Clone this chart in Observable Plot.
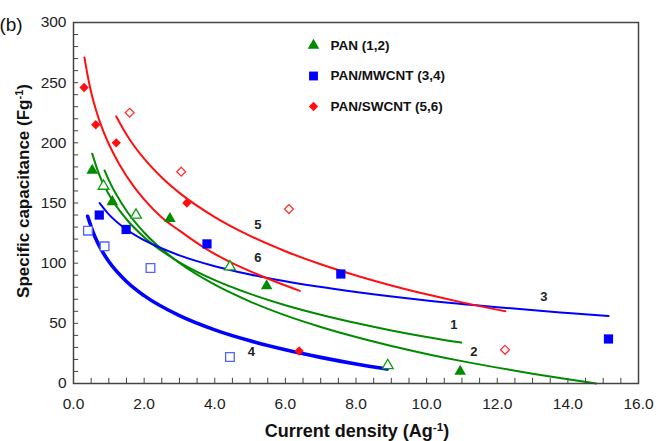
<!DOCTYPE html>
<html><head><meta charset="utf-8">
<script src="https://cdn.jsdelivr.net/npm/d3@7"></script>
<script src="https://cdn.jsdelivr.net/npm/@observablehq/plot@0.6"></script>
<style>
html,body{margin:0;padding:0;background:#fff}
svg{display:block}
</style>
</head><body><div id="chart"></div>
<script>
// ---- data ----
const seriesNames = ["PAN (1,2)", "PAN/MWCNT (3,4)", "PAN/SWCNT (5,6)"];

// PAN (triangles): filled = curve 1, open = curve 2
const panFilledX = [0.53, 1.10, 2.73, 5.47, 10.95];
const panFilledY = [177, 151, 137, 81, 10];
const panOpenX = [0.85, 1.77, 4.43, 8.90];
const panOpenY = [164, 140, 97, 15];

// PAN/MWCNT (squares): filled = curve 3, open = curve 4
const mwFilledX = [0.73, 1.49, 3.78, 7.57, 15.15];
const mwFilledY = [140, 128, 116, 91, 37];
const mwOpenX = [0.41, 0.88, 2.18, 4.43];
const mwOpenY = [127, 114, 96, 22];

// PAN/SWCNT (diamonds)
const swFilledX = [0.30, 0.63, 1.21, 3.21, 6.39];
const swFilledY = [246, 215, 200, 150, 27];
const swOpenX = [1.59, 3.05, 6.10, 12.22];
const swOpenY = [225, 176, 145, 28];

// fitted curves
const curve1X = [0.53, 0.7, 1, 1.5, 2, 3, 4, 5, 6, 7, 8, 9, 10, 10.98];
const curve1Y = [191, 175.7, 157.3, 136.5, 121.6, 100.7, 85.9, 74.5, 65, 57.1, 50.2, 44.1, 38.7, 34];
const curve2X = [0.88, 1, 1.5, 2, 3, 4, 5, 6, 7, 8, 9, 10, 11, 12, 13, 14, 14.8];
const curve2Y = [177, 169, 143.6, 125.5, 100.1, 82.1, 68.1, 56.6, 47, 38.6, 31.2, 24.6, 18.6, 13.2, 8.1, 3.5, 0];
const curve3X = [0.74, 1, 1.5, 2, 3, 4, 5, 6, 8, 10, 12, 14, 15.15];
const curve3Y = [150, 140.6, 128, 119.1, 106.5, 97.5, 90.6, 84.9, 76, 69, 63.4, 58.6, 56];
const curve4X = [0.4, 0.6, 0.8, 1, 1.5, 2, 3, 4, 5, 6, 7, 8, 8.88];
const curve4Y = [139, 122.4, 110.6, 101.4, 84.8, 73, 56.4, 44.6, 35.5, 28, 21.7, 16.2, 12];
const curve5X = [1.21, 1.5, 2, 2.5, 3, 4, 5, 6, 7, 8, 9, 10, 11, 12.23];
const curve5Y = [222, 207, 186.8, 171.2, 158.4, 138.3, 122.7, 109.9, 99.1, 89.8, 81.5, 74.1, 67.4, 60];
const curve6X = [0.31, 0.4, 0.5, 0.62, 0.8, 1, 1.3, 1.7, 2, 2.5, 3, 3.8, 4.5, 5.6, 6.41];
const curve6Y = [271, 256, 242, 229, 213, 199, 182, 164, 153, 138, 127, 111, 100, 86, 77];

// curve number annotations
const curveLabels = ["1", "2", "3", "4", "5", "6"];
const curveLabelX = [10.77, 11.34, 13.32, 5.04, 5.22, 5.22];
const curveLabelY = [48.8, 26.6, 71.7, 26.6, 132, 104.5];

// tick values
const xTicks = [0, 2, 4, 6, 8, 10, 12, 14, 16];
const yTicks = [0, 50, 100, 150, 200, 250, 300];

// ---- styles ----
const GREEN = "#008a00", BLUE = "#0000ff", RED = "#ff1010";
const BLUE_OPEN = "#4f63ff", RED_OPEN = "#ff3333", GREEN_OPEN = "#109a10";
const AXIS = "#444";
const FONT = "'Liberation Sans', Arial, Helvetica, sans-serif";

const zip = (xs, ys) => xs.map((x, i) => ({x, y: ys[i]}));
const curves = [
  {pts: zip(curve1X, curve1Y), stroke: GREEN, w: 2},
  {pts: zip(curve2X, curve2Y), stroke: GREEN, w: 2},
  {pts: zip(curve3X, curve3Y), stroke: BLUE, w: 2},
  {pts: zip(curve4X, curve4Y), stroke: BLUE, w: 3.6},
  {pts: zip(curve5X, curve5Y), stroke: RED, w: 2},
  {pts: zip(curve6X, curve6Y), stroke: RED, w: 2}
];
const markers = [
  {pts: zip(panFilledX, panFilledY), symbol: "triangle", r: 4.3, fill: GREEN, stroke: "none"},
  {pts: zip(panOpenX, panOpenY), symbol: "triangle", r: 4.0, fill: "white", stroke: GREEN_OPEN},
  {pts: zip(mwFilledX, mwFilledY), symbol: "square", r: 5.2, fill: BLUE, stroke: "none"},
  {pts: zip(mwOpenX, mwOpenY), symbol: "square", r: 4.9, fill: "white", stroke: BLUE_OPEN},
  {pts: zip(swFilledX, swFilledY), symbol: "diamond2", r: 4.2, fill: RED, stroke: "none"},
  {pts: zip(swOpenX, swOpenY), symbol: "diamond2", r: 4.0, fill: "white", stroke: RED_OPEN}
];
const legend = [
  {name: seriesNames[0], symbol: "triangle", r: 4.3, fill: GREEN},
  {name: seriesNames[1], symbol: "square", r: 5.0, fill: BLUE},
  {name: seriesNames[2], symbol: "diamond2", r: 4.2, fill: RED}
];
const xMinor = d3.range(0, 16.01, 0.5);
const yMinor = d3.range(0, 300.1, 10);

const marks = [];
// inward tick marks
marks.push(Plot.ruleX(xMinor, {x: d => d, y1: 0, y2: 4.3, stroke: AXIS, strokeWidth: 1}));
marks.push(Plot.ruleY(yMinor, {y: d => d, x1: 0, x2: 0.145, stroke: AXIS, strokeWidth: 1}));
// curves
for (const c of curves) {
  marks.push(Plot.line(c.pts, {x: "x", y: "y", stroke: c.stroke, strokeWidth: c.w, curve: "monotone-x"}));
}
// data points
for (const m of markers) {
  marks.push(Plot.dot(m.pts, {x: "x", y: "y", symbol: m.symbol, r: m.r, fill: m.fill,
    stroke: m.stroke, strokeWidth: 1.3}));
}
// curve numbers
marks.push(Plot.text(curveLabels.map((t, i) => ({t, x: curveLabelX[i], y: curveLabelY[i]})),
  {x: "x", y: "y", text: "t", fontWeight: "bold", fontSize: 13, fill: "#222"}));
// legend
legend.forEach((L, i) => {
  marks.push(Plot.dot([L], {frameAnchor: "top-left", dx: 240, dy: 23 + i * 30.5,
    symbol: L.symbol, r: L.r, fill: L.fill}));
  marks.push(Plot.text([L], {frameAnchor: "top-left", dx: 257, dy: 23 + i * 30.5, text: "name",
    textAnchor: "start", lineAnchor: "middle", fontWeight: "bold", fontSize: 13.5, fill: "#111"}));
});
// axes + frame
marks.push(Plot.axisX({ticks: xTicks, tickFormat: d3.format(".1f"), tickSize: 0, tickPadding: 14,
  label: null, fontSize: 15.5, color: "#222"}));
marks.push(Plot.axisY({ticks: yTicks, tickFormat: d => String(d), tickSize: 0, tickPadding: 7,
  label: null, fontSize: 15.5, color: "#222"}));
marks.push(Plot.frame({stroke: AXIS, strokeWidth: 1.5}));

const chart = Plot.plot({
  width: 656, height: 441,
  marginLeft: 73, marginRight: 18, marginTop: 22, marginBottom: 58,
  style: {fontFamily: FONT, background: "white", overflow: "visible"},
  x: {domain: [0, 16]},
  y: {domain: [0, 300]},
  marks
});
document.getElementById("chart").appendChild(chart);

// titles with superscripts
const svg = d3.select(chart);
const xt = svg.append("text").attr("x", 357).attr("y", 437).attr("text-anchor", "middle")
  .attr("font-family", FONT).attr("font-weight", "bold").attr("font-size", 18).attr("fill", "#111");
xt.append("tspan").text("Current density (Ag");
xt.append("tspan").attr("dy", "-0.5em").attr("font-size", "0.65em").text("-1");
xt.append("tspan").attr("dy", "0.32em").text(")");

const yt = svg.append("text").attr("transform", "translate(29,191) rotate(-90)").attr("text-anchor", "middle")
  .attr("font-family", FONT).attr("font-weight", "bold").attr("font-size", 17).attr("fill", "#111");
yt.append("tspan").text("Specific capacitance (Fg");
yt.append("tspan").attr("dy", "-0.5em").attr("font-size", "0.65em").text("-1");
yt.append("tspan").attr("dy", "0.32em").text(")");

svg.append("text").attr("x", 11).attr("y", 31).attr("font-family", FONT)
  .attr("font-size", 19).attr("fill", "#111").text("(b)");
</script></body></html>
